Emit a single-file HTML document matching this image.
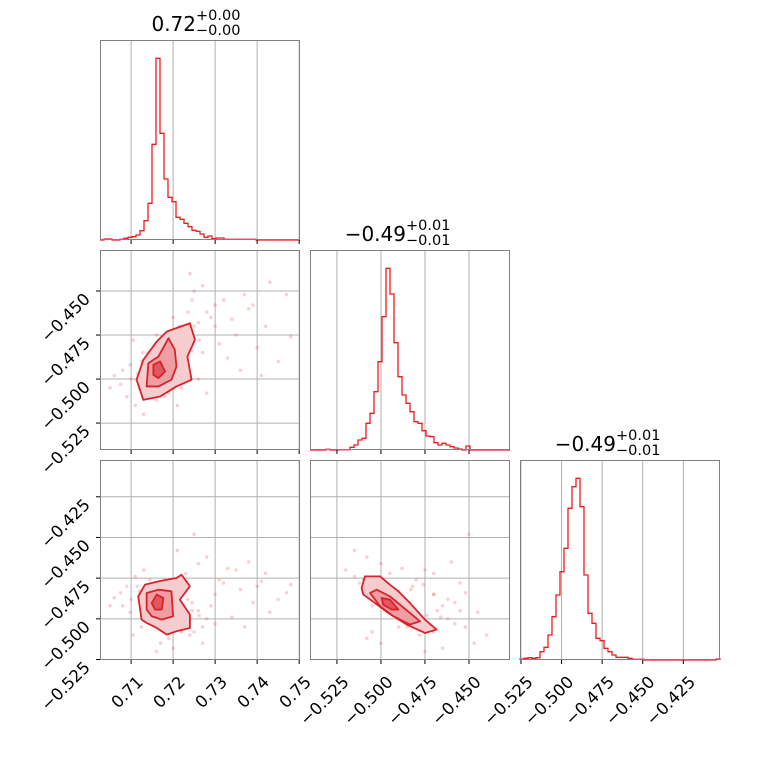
<!DOCTYPE html>
<html><head><meta charset="utf-8"><style>
html,body{margin:0;padding:0;background:#fff;}
svg{display:block;font-family:"DejaVu Sans","Liberation Sans",sans-serif;}
</style></head><body>
<svg id="chart" width="760" height="760" viewBox="0 0 760 760" xmlns="http://www.w3.org/2000/svg"></svg>
<script>
// ---- data ----
const hist1Counts = [0,3,3,0,0,2,5,8,10,15,28,58,110,287,545,320,183,128,115,68,62,50,40,29,26,18,8,12,4,6,6,2,2,2,2,2,2,2,2,0,0,0,0,0,0,0,0,0,0,0];
const hist2Counts = [0,0,0,0,2,0,0,1,1,1,8,15,30,35,80,110,175,265,400,545,468,322,220,165,140,115,85,80,58,42,40,22,15,20,15,10,6,3,0,12,0,0,0,0,0,0,0,0,0,0];
const hist3Counts = [3,5,7,5,7,25,38,75,130,195,265,335,455,520,545,460,255,140,110,65,58,35,25,15,8,8,8,5,2,2,2,0,0,0,0,0,0,0,0,0,0,0,0,0,0,0,0,0,0,3];
const p1Ticks = [0.71,0.72,0.73,0.74,0.75];
const p1TickLabels = ["0.71","0.72","0.73","0.74","0.75"];
const p2Ticks = [-0.525,-0.500,-0.475,-0.450];
const p2TickLabels = ["\u22120.525","\u22120.500","\u22120.475","\u22120.450"];
const p3Ticks = [-0.525,-0.500,-0.475,-0.450,-0.425];
const p3TickLabels = ["\u22120.525","\u22120.500","\u22120.475","\u22120.450","\u22120.425"];
const titles = [["0.72","+0.00","\u22120.00"],["\u22120.49","+0.01","\u22120.01"],["\u22120.49","+0.01","\u22120.01"]];
// contours [outer, middle, inner] in data units
const c12 = [
 [[0.7129,-0.5118],[0.7113,-0.5004],[0.7129,-0.4891],[0.7161,-0.4787],[0.7185,-0.4730],[0.7240,-0.4683],[0.7252,-0.4777],[0.7234,-0.4872],[0.7244,-0.5004],[0.7208,-0.5042],[0.7169,-0.5099]],
 [[0.7137,-0.5042],[0.7141,-0.4910],[0.7165,-0.4872],[0.7189,-0.4768],[0.7204,-0.4834],[0.7208,-0.4929],[0.7196,-0.5004],[0.7165,-0.5042]],
 [[0.7153,-0.4919],[0.7169,-0.4900],[0.7181,-0.4957],[0.7165,-0.4995],[0.7153,-0.4976]]
];
const c13 = [
 [[0.7125,-0.5005],[0.7117,-0.4862],[0.7133,-0.4790],[0.7165,-0.4770],[0.7208,-0.4749],[0.7220,-0.4729],[0.7240,-0.4800],[0.7228,-0.4841],[0.7216,-0.4882],[0.7240,-0.4974],[0.7240,-0.5056],[0.7208,-0.5076],[0.7185,-0.5097],[0.7161,-0.5056],[0.7137,-0.5025]],
 [[0.7137,-0.4943],[0.7137,-0.4841],[0.7165,-0.4821],[0.7196,-0.4831],[0.7200,-0.4984],[0.7173,-0.5005],[0.7149,-0.4984]],
 [[0.7149,-0.4903],[0.7161,-0.4851],[0.7177,-0.4872],[0.7173,-0.4943],[0.7157,-0.4943]]
];
const c23 = [
 [[-0.5110,-0.4811],[-0.5091,-0.4739],[-0.5005,-0.4739],[-0.4949,-0.4790],[-0.4901,-0.4831],[-0.4835,-0.4903],[-0.4750,-0.5005],[-0.4684,-0.5066],[-0.4750,-0.5087],[-0.4854,-0.5035],[-0.4958,-0.4964],[-0.5034,-0.4903],[-0.5100,-0.4851]],
 [[-0.5062,-0.4841],[-0.5024,-0.4821],[-0.4949,-0.4862],[-0.4778,-0.5015],[-0.4835,-0.5035],[-0.4930,-0.4984],[-0.5005,-0.4923]],
 [[-0.4996,-0.4872],[-0.4949,-0.4882],[-0.4901,-0.4943],[-0.4939,-0.4943],[-0.4987,-0.4913]]
];
// posterior samples [p1, p2, p3]
const samples = [
[0.7150,-0.497,-0.490],[0.7170,-0.492,-0.493],[0.7140,-0.500,-0.486],[0.7190,-0.488,-0.497],[0.7210,-0.482,-0.500],
[0.7230,-0.478,-0.505],[0.7250,-0.470,-0.508],[0.7280,-0.462,-0.500],[0.7300,-0.470,-0.485],[0.7320,-0.455,-0.478],
[0.7350,-0.475,-0.470],[0.7380,-0.460,-0.465],[0.7400,-0.482,-0.480],[0.7420,-0.470,-0.472],[0.7450,-0.490,-0.488],
[0.7270,-0.485,-0.505],[0.7260,-0.468,-0.495],[0.7220,-0.474,-0.498],[0.7200,-0.505,-0.480],[0.7180,-0.510,-0.476],
[0.7160,-0.512,-0.478],[0.7120,-0.505,-0.483],[0.7100,-0.500,-0.488],[0.7080,-0.495,-0.492],[0.7060,-0.498,-0.487],
[0.7110,-0.515,-0.474],[0.7130,-0.520,-0.470],[0.7090,-0.510,-0.480],[0.7050,-0.505,-0.492],[0.7150,-0.490,-0.500],
[0.7165,-0.494,-0.492],[0.7175,-0.486,-0.497],[0.7185,-0.496,-0.494],[0.7195,-0.480,-0.503],[0.7205,-0.492,-0.490],
[0.7215,-0.470,-0.485],[0.7235,-0.462,-0.488],[0.7245,-0.455,-0.495],[0.7290,-0.465,-0.492],[0.7310,-0.480,-0.476],
[0.7330,-0.488,-0.469],[0.7360,-0.495,-0.482],[0.7390,-0.458,-0.490],[0.7410,-0.498,-0.477],[0.7470,-0.452,-0.484],
[0.7240,-0.440,-0.510],[0.7270,-0.447,-0.515],[0.7220,-0.505,-0.508],[0.7190,-0.508,-0.512],[0.7170,-0.500,-0.515],
[0.7140,-0.485,-0.502],[0.7125,-0.490,-0.505],[0.7105,-0.478,-0.510],[0.7160,-0.475,-0.520],[0.7200,-0.465,-0.518],
[0.7230,-0.495,-0.472],[0.7260,-0.500,-0.466],[0.7280,-0.508,-0.462],[0.7210,-0.515,-0.458],[0.7250,-0.450,-0.448],
[0.7180,-0.483,-0.482],[0.7155,-0.503,-0.484],[0.7135,-0.493,-0.497],[0.7195,-0.501,-0.489],[0.7225,-0.487,-0.492],
[0.7300,-0.458,-0.503],[0.7340,-0.466,-0.499],[0.7370,-0.452,-0.505],[0.7430,-0.445,-0.496],[0.7480,-0.476,-0.479],
[0.7115,-0.497,-0.480],[0.7145,-0.508,-0.476],[0.7128,-0.485,-0.494],[0.7230,-0.490,-0.483],[0.7245,-0.484,-0.490],
[0.7262,-0.478,-0.498],[0.7215,-0.500,-0.478],[0.7098,-0.492,-0.496],[0.7075,-0.503,-0.484],[0.7172,-0.478,-0.507]
];
// ---- layout ----
const NS="http://www.w3.org/2000/svg";
const svg=document.getElementById('chart');
function mk(tag,attrs,parent){const e=document.createElementNS(NS,tag);for(const k in attrs)e.setAttribute(k,attrs[k]);(parent||svg).appendChild(e);return e;}
const D1=[0.7026,0.7502], D2=[-0.5403,-0.4267], D3=[-0.5256,-0.4024], D3y=[-0.5253,-0.4024];
const colX=[100,310,520], rowY=[40,250,460], S=200;
function sx(col,dom){return v=>colX[col]+(v-dom[0])/(dom[1]-dom[0])*S;}
function sy(row,dom){return v=>rowY[row]+S-(v-dom[0])/(dom[1]-dom[0])*S;}

function grid(g,col,row,xt,xs,yt,ys){
  xt.forEach(t=>{const x=xs(t);const l=mk('line',{x1:x,x2:x,y1:rowY[row],y2:rowY[row]+S,stroke:'#b0b0b0','stroke-width':1},g);
    
    });
  if(yt) yt.forEach(t=>{const y=ys(t);const l=mk('line',{x1:colX[col],x2:colX[col]+S,y1:y,y2:y,stroke:'#b0b0b0','stroke-width':1},g);
    
    });
}
function frame(g,col,row){const r=mk('rect',{x:colX[col]+0.5,y:rowY[row]+0.5,width:S-1,height:S-1,fill:'none',stroke:'#808080','stroke-width':1},g);
  
  }
function xticks(g,col,row,ticks,xs,labels){
  const yb=rowY[row]+S;
  ticks.forEach((t,i)=>{const x=xs(t);
    const l=mk('line',{x1:x,x2:x,y1:yb,y2:yb+4,stroke:'#000','stroke-width':1},g);
    
    
    if(labels){const tx=mk('text',{x:x+13,y:yb+23,'text-anchor':'end','font-size':16.5,fill:'#000',transform:`rotate(-45 ${x+13} ${yb+23})`},g);
      tx.textContent=labels[i];
      
      }
  });
}
function yticks(g,col,row,ticks,ys,labels){
  const xl=colX[col];
  ticks.forEach((t,i)=>{const y=ys(t);
    const l=mk('line',{x1:xl-4,x2:xl,y1:y,y2:y,stroke:'#000','stroke-width':1},g);
    
    
    const tx=mk('text',{x:xl-9,y:y+9,'text-anchor':'end','font-size':16.5,fill:'#000',transform:`rotate(-45 ${xl-9} ${y+9})`},g);
    tx.textContent=labels[i];
    
    
  });
}
function hist(g,col,row,counts,dom){
  const xs=sx(col,dom), ys=sy(row,[0,600]); const n=counts.length, w=(dom[1]-dom[0])/n;
  let d=`M${xs(dom[0])},${ys(0)}`;
  counts.forEach((c,i)=>{d+=` L${xs(dom[0]+i*w)},${ys(c)} L${xs(dom[0]+(i+1)*w)},${ys(c)}`;});
  d+=` L${xs(dom[1])},${ys(0)}`;
  const p=mk('path',{d:d,fill:'none',stroke:'#ee1c1c','stroke-width':1.3},g);
  
  
}
function title(col,row,t){
  const cx=colX[col]+S/2, by=rowY[row]-9;
  const g=mk('g',{});
  
  
  const a=mk('text',{x:cx-4,y:by,'text-anchor':'end','font-size':20,fill:'#000'},g); a.textContent=t[0];
  const b=mk('text',{x:cx-4,y:by-11,'font-size':14.5,fill:'#000'},g); b.textContent=t[1];
  const c=mk('text',{x:cx-4,y:by+4,'font-size':14.5,fill:'#000'},g); c.textContent=t[2];
}
function scatter2d(g,col,row,xi,yi,xd,yd,cont){
  const xs=sx(col,xd), ys=sy(row,yd);
  const cg=mk('g',{'clip-path':`url(#clip${col}${row})`},g);
  samples.forEach(s=>{const c=mk('circle',{cx:xs(s[xi]),cy:ys(s[yi]),r:1.8,fill:'#e34a4f','fill-opacity':0.25},cg);
    
    });
  const fills=['#f6cdcf','#ee9ea2','#e0575d'];
  cont.forEach((poly,i)=>{const pts=poly.map(p=>xs(p[0])+','+ys(p[1])).join(' ');
    const p=mk('polygon',{points:pts,fill:fills[i],stroke:'#d8232a','stroke-width':1.8,'stroke-linejoin':'round'},cg);
    
    });
}
const defs=mk('defs',{});
[[0,1],[0,2],[1,2]].forEach(([c,r])=>{const cp=mk('clipPath',{id:`clip${c}${r}`},defs);mk('rect',{x:colX[c],y:rowY[r],width:S,height:S},cp);});

let g=mk('g',{});  
grid(g,0,0,p1Ticks,sx(0,D1)); hist(g,0,0,hist1Counts,D1); frame(g,0,0); xticks(g,0,0,p1Ticks,sx(0,D1),null); title(0,0,titles[0]);
g=mk('g',{});  
grid(g,0,1,p1Ticks,sx(0,D1),p2Ticks,sy(1,D2)); scatter2d(g,0,1,0,1,D1,D2,c12); frame(g,0,1);
xticks(g,0,1,p1Ticks,sx(0,D1),null); yticks(g,0,1,p2Ticks,sy(1,D2),p2TickLabels);
g=mk('g',{});  
grid(g,1,1,p2Ticks,sx(1,D2)); hist(g,1,1,hist2Counts,D2); frame(g,1,1); xticks(g,1,1,p2Ticks,sx(1,D2),null); title(1,1,titles[1]);
g=mk('g',{});  
grid(g,0,2,p1Ticks,sx(0,D1),p3Ticks,sy(2,D3y)); scatter2d(g,0,2,0,2,D1,D3y,c13); frame(g,0,2);
xticks(g,0,2,p1Ticks,sx(0,D1),p1TickLabels); yticks(g,0,2,p3Ticks,sy(2,D3y),p3TickLabels);
g=mk('g',{});  
grid(g,1,2,p2Ticks,sx(1,D2),p3Ticks,sy(2,D3y)); scatter2d(g,1,2,1,2,D2,D3y,c23); frame(g,1,2);
xticks(g,1,2,p2Ticks,sx(1,D2),p2TickLabels);
g=mk('g',{});  
grid(g,2,2,p3Ticks,sx(2,D3)); hist(g,2,2,hist3Counts,D3); frame(g,2,2); xticks(g,2,2,p3Ticks,sx(2,D3),p3TickLabels); title(2,2,titles[2]);
</script>
</body></html>
